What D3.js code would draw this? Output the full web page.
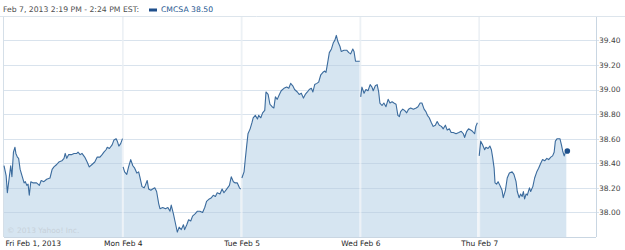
<!DOCTYPE html>
<html>
<head>
<meta charset="utf-8">
<script src="https://cdn.jsdelivr.net/npm/d3@7"></script>
<style>
  body { margin: 0; background: #fff; }
  svg text { font-family: Tahoma, "DejaVu Sans", sans-serif; }
</style>
</head>
<body>
<div id="main"></div>
<script>
// session labels and intraday quotes, [minutes since 9:30, price]
const dayLabels = ["Fri Feb 1, 2013", "Mon Feb 4", "Tue Feb 5", "Wed Feb 6", "Thu Feb 7"];
const yTicks = [38.00, 38.20, 38.40, 38.60, 38.80, 39.00, 39.20, 39.40];

const feb1 = [[0,38.38],[7,38.30],[11,38.16],[17,38.28],[22,38.38],[26,38.29],[31,38.49],[36,38.53],[39,38.48],[44,38.45],[48,38.44],[53,38.35],[59,38.30],[66,38.24],[70,38.25],[75,38.22],[79,38.23],[83,38.14],[88,38.25],[96,38.24],[107,38.24],[116,38.22],[122,38.26],[131,38.25],[140,38.27],[151,38.28],[158,38.35],[164,38.37],[173,38.39],[180,38.41],[190,38.42],[197,38.44],[201,38.48],[206,38.44],[212,38.47],[221,38.47],[230,38.48],[239,38.48],[243,38.49],[250,38.47],[256,38.48],[265,38.45],[273,38.41],[280,38.37],[289,38.39],[298,38.41],[306,38.45],[315,38.45],[322,38.47],[328,38.49],[335,38.51],[339,38.53],[346,38.52],[355,38.55],[361,38.59],[368,38.60],[372,38.58],[377,38.54],[383,38.56],[389,38.60]];
const feb4 = [[1,38.37],[6,38.33],[13,38.31],[19,38.37],[26,38.43],[33,38.38],[39,38.36],[46,38.32],[52,38.33],[56,38.29],[63,38.21],[70,38.20],[74,38.22],[80,38.26],[85,38.19],[92,38.18],[98,38.19],[105,38.20],[111,38.17],[118,38.07],[122,38.03],[131,38.04],[140,38.03],[148,38.04],[155,38.01],[159,38.06],[166,37.99],[172,37.92],[179,37.84],[185,37.88],[192,37.86],[199,37.90],[203,37.86],[210,37.90],[216,37.94],[223,37.93],[229,37.97],[238,37.99],[245,38.01],[253,38.01],[262,38.00],[269,38.04],[275,38.09],[284,38.11],[291,38.12],[297,38.14],[304,38.13],[310,38.16],[319,38.15],[326,38.19],[332,38.16],[341,38.19],[350,38.22],[356,38.29],[363,38.25],[369,38.24],[376,38.24],[383,38.20],[387,38.19]];
const feb5 = [[1,38.28],[8,38.33],[12,38.43],[17,38.55],[21,38.64],[28,38.68],[34,38.73],[38,38.77],[45,38.79],[52,38.76],[56,38.79],[63,38.77],[69,38.81],[76,38.83],[80,38.98],[87,38.96],[93,38.88],[100,38.86],[106,38.85],[111,38.94],[117,38.92],[124,38.96],[130,38.99],[139,39.01],[148,39.02],[155,39.01],[161,39.05],[168,39.03],[174,39.00],[183,38.98],[189,38.96],[196,38.97],[203,38.93],[209,38.96],[216,38.98],[222,39.00],[229,39.01],[234,38.98],[240,39.04],[247,39.05],[253,39.06],[260,39.12],[267,39.14],[273,39.15],[277,39.14],[282,39.21],[288,39.30],[295,39.33],[301,39.38],[306,39.40],[311,39.44],[316,39.39],[323,39.35],[327,39.31],[336,39.32],[345,39.32],[352,39.30],[358,39.29],[365,39.33],[369,39.31],[374,39.23],[383,39.23],[388,39.23]];
const feb6 = [[1,38.94],[5,39.02],[12,38.97],[18,39.00],[25,38.99],[32,39.04],[38,39.02],[42,38.99],[49,39.03],[55,39.04],[60,38.98],[64,38.89],[71,38.87],[77,38.89],[84,38.86],[91,38.92],[97,38.89],[104,38.90],[110,38.89],[117,38.88],[123,38.79],[128,38.78],[132,38.82],[139,38.84],[145,38.83],[152,38.81],[158,38.84],[165,38.85],[174,38.84],[183,38.85],[189,38.86],[196,38.89],[202,38.89],[209,38.84],[215,38.82],[220,38.79],[226,38.77],[233,38.73],[239,38.70],[246,38.71],[252,38.74],[259,38.71],[266,38.70],[272,38.68],[279,38.71],[285,38.67],[292,38.68],[298,38.65],[305,38.65],[314,38.64],[323,38.65],[331,38.66],[338,38.64],[342,38.61],[349,38.66],[355,38.68],[362,38.67],[368,38.66],[375,38.64],[379,38.70],[384,38.73]];
const feb7 = [[0,38.46],[5,38.58],[11,38.55],[18,38.51],[22,38.53],[29,38.52],[35,38.54],[40,38.51],[44,38.45],[49,38.36],[52,38.24],[57,38.23],[62,38.25],[68,38.22],[75,38.18],[79,38.12],[86,38.18],[92,38.28],[99,38.32],[108,38.33],[114,38.31],[121,38.25],[125,38.17],[131,38.12],[136,38.15],[141,38.13],[145,38.17],[149,38.11],[154,38.15],[158,38.14],[165,38.20],[169,38.17],[176,38.21],[182,38.28],[189,38.33],[195,38.36],[202,38.40],[208,38.43],[215,38.42],[222,38.44],[228,38.43],[235,38.45],[241,38.46],[246,38.49],[250,38.58],[256,38.60],[265,38.60],[270,38.55],[274,38.50],[279,38.46],[283,38.49],[286,38.50]];
const sessions = [feb1, feb4, feb5, feb6, feb7];
const symbol = "CMCSA";
const lastPrice = 38.50;
const headerText = "Feb 7, 2013 2:19 PM - 2:24 PM EST:";

const W = 625, H = 250;
const plotL = 4, plotR = 596, plotT = 17, plotB = 237;
const dayLen = 390;

const svg = d3.select("#main").append("svg").attr("width", W).attr("height", H);

const x = d3.scaleLinear().domain([0, dayLen * 5]).range([plotL, 598]);
const y = d3.scaleLinear().domain([37.80, 39.59]).range([plotB, plotT]);

const pt = (i) => (d) => x(i * dayLen + d[0]);

// vertical day separators under the fill
svg.append("g").selectAll("line")
   .data(d3.range(1, 5))
   .enter().append("line")
   .attr("x1", d => x(d * dayLen)).attr("x2", d => x(d * dayLen))
   .attr("y1", plotT).attr("y2", plotB)
   .attr("stroke", "#d5dfe8").attr("stroke-width", 1.5);

// area fill per session
sessions.forEach((s, i) => {
  const area = d3.area().x(pt(i)).y0(plotB).y1(d => y(d[1]));
  svg.append("path").datum(s).attr("d", area).attr("fill", "#d6e5f1");
});

// horizontal grid
svg.append("g").selectAll("line")
   .data(yTicks)
   .enter().append("line")
   .attr("x1", plotL).attr("x2", plotR + 3)
   .attr("y1", d => Math.round(y(d)) + 0.5).attr("y2", d => Math.round(y(d)) + 0.5)
   .attr("stroke", "#b3c8db").attr("stroke-opacity", 0.5);

// separators lighten the fill
svg.append("g").selectAll("line")
   .data(d3.range(1, 5))
   .enter().append("line")
   .attr("x1", d => x(d * dayLen)).attr("x2", d => x(d * dayLen))
   .attr("y1", plotT).attr("y2", plotB)
   .attr("stroke", "#ffffff").attr("stroke-opacity", 0.55).attr("stroke-width", 2);

// frame
svg.append("line").attr("x1", 0).attr("x2", W).attr("y1", plotT - 0.5).attr("y2", plotT - 0.5).attr("stroke", "#dde5ec");
svg.append("line").attr("x1", plotL - 0.5).attr("x2", plotL - 0.5).attr("y1", plotT).attr("y2", plotB).attr("stroke", "#d5dfe8");
svg.append("line").attr("x1", plotL).attr("x2", plotR).attr("y1", plotB + 0.5).attr("y2", plotB + 0.5).attr("stroke", "#c9d6e2");
svg.append("line").attr("x1", plotR + 0.5).attr("x2", plotR + 0.5).attr("y1", plotT).attr("y2", plotB).attr("stroke", "#c9d6e2");

// price line per session
sessions.forEach((s, i) => {
  const line = d3.line().x(pt(i)).y(d => y(d[1]));
  svg.append("path").datum(s).attr("d", line)
     .attr("fill", "none").attr("stroke", "#3b6b9d").attr("stroke-width", 1.1)
     .attr("stroke-linejoin", "round");
});

const last = feb7[feb7.length - 1];
svg.append("circle").attr("cx", x(4 * dayLen + last[0]) + 1).attr("cy", y(lastPrice))
   .attr("r", 2.8).attr("fill", "#1d4f8a");

// right axis
const yAxis = d3.axisRight(y).tickValues(yTicks).tickFormat(d3.format(".2f")).tickSize(0).tickPadding(3);
const ya = svg.append("g").attr("transform", "translate(" + plotR + ",0)").call(yAxis);
ya.select(".domain").remove();
ya.selectAll("text").attr("fill", "#444").style("font-size", "7.5px");

// bottom axis
const xAxis = d3.axisBottom(x).tickValues(d3.range(0, 5).map(d => d * dayLen))
   .tickFormat((d, i) => dayLabels[i]).tickSize(0).tickPadding(4);
const xa = svg.append("g").attr("transform", "translate(0," + plotB + ")").call(xAxis);
xa.select(".domain").remove();
xa.selectAll("text").attr("fill", "#1e1e1e").style("font-size", "7.5px");
xa.selectAll("text").filter((d, i) => i === 0).attr("text-anchor", "start").attr("dx", 1);

// watermark
svg.append("text").attr("x", 7).attr("y", 233).attr("fill", "#c7d1da")
   .style("font-size", "7.5px").text("\u00a9 2013 Yahoo! Inc.");

// header
svg.append("text").attr("x", 3).attr("y", 12).attr("fill", "#4e4e4e")
   .style("font-size", "7.7px").text(headerText);
svg.append("rect").attr("x", 149).attr("y", 8.5).attr("width", 8).attr("height", 3).attr("fill", "#1f4f8c");
svg.append("text").attr("x", 161).attr("y", 12).attr("fill", "#24558f")
   .style("font-size", "7.7px").text(symbol + " " + d3.format(".2f")(lastPrice));
</script>
</body>
</html>
